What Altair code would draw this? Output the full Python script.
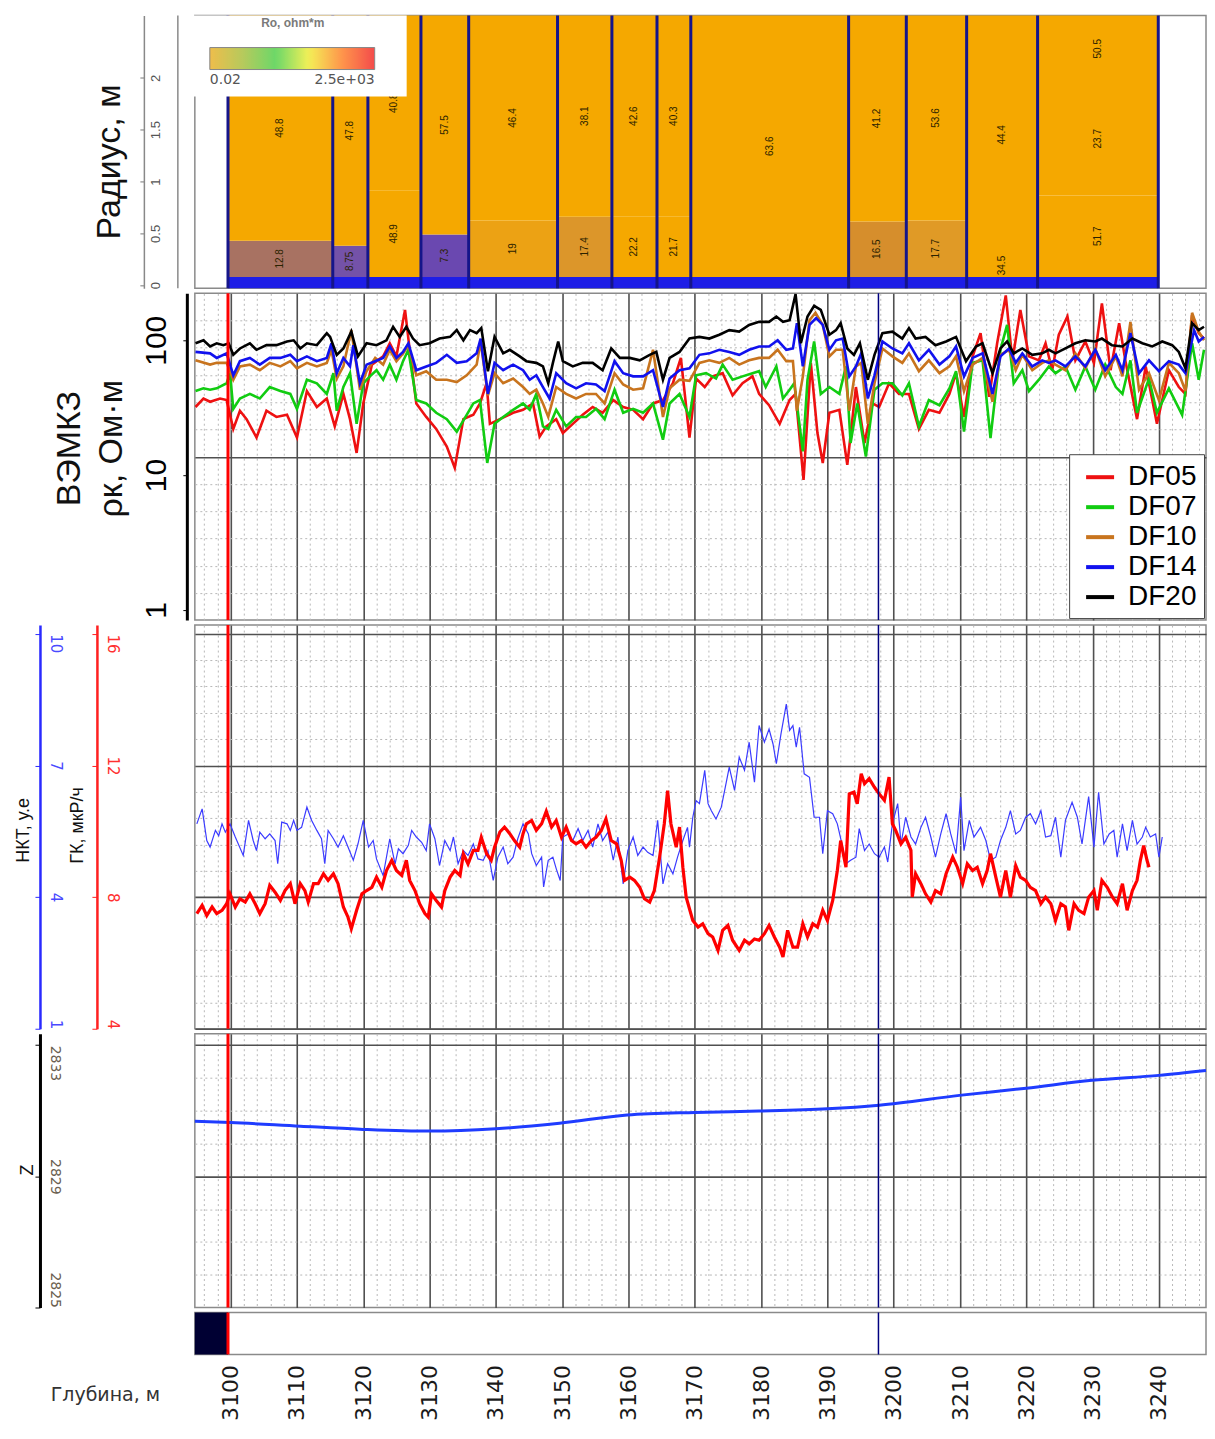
import math
import altair as alt
import pandas as pd

# ---------------- data ----------------
DEPTH_RANGE = [3094.6, 3247.1]
RED_MARK = 3099.6
NAVY_MARK = 3197.7
DEPTH_TICKS = list(range(3100, 3241, 10))
GRID_STEPS = list(range(3096, 3247, 2))

# Panel 1: radial resistivity model (depth from, depth to, r from, r to, Ro)
BOUNDARIES = [3099.6, 3115.4, 3120.7, 3128.7, 3135.9, 3149.3, 3157.5, 3164.3,
              3169.4, 3193.2, 3201.9, 3211.0, 3221.7, 3239.9]
WELL_RADIUS = 0.08
R_DOMAIN = [-0.03, 2.6]
ZONES = [
    (3099.6, 3115.4, 0.08, 0.43, 12.8), (3099.6, 3115.4, 0.43, 2.6, 48.8),
    (3115.4, 3120.7, 0.08, 0.38, 8.75), (3115.4, 3120.7, 0.38, 2.6, 47.8),
    (3120.7, 3128.7, 0.08, 0.91, 48.9), (3120.7, 3128.7, 0.91, 2.6, 40.8),
    (3128.7, 3135.9, 0.08, 0.49, 7.3), (3128.7, 3135.9, 0.49, 2.6, 57.5),
    (3135.9, 3149.3, 0.08, 0.625, 19), (3135.9, 3149.3, 0.625, 2.6, 46.4),
    (3149.3, 3157.5, 0.08, 0.66, 17.4), (3149.3, 3157.5, 0.66, 2.6, 38.1),
    (3157.5, 3164.3, 0.08, 0.66, 22.2), (3157.5, 3164.3, 0.66, 2.6, 42.6),
    (3164.3, 3169.4, 0.08, 0.66, 21.7), (3164.3, 3169.4, 0.66, 2.6, 40.3),
    (3169.4, 3193.2, 0.08, 2.6, 63.6),
    (3193.2, 3201.9, 0.08, 0.615, 16.5), (3193.2, 3201.9, 0.615, 2.6, 41.2),
    (3201.9, 3211.0, 0.08, 0.625, 17.7), (3201.9, 3211.0, 0.625, 2.6, 53.6),
    (3211.0, 3221.7, 0.08, 0.30, 34.5), (3211.0, 3221.7, 0.30, 2.6, 44.4),
    (3221.7, 3239.9, 0.08, 0.865, 51.7), (3221.7, 3239.9, 0.865, 1.96, 23.7),
    (3221.7, 3239.9, 1.96, 2.6, 50.5),
]
RO_LEGEND = [0.02, 2500]

# Panel 2: VEMKZ apparent resistivity curves (depth, ohm*m)
DF05 = [(3094.7,32),(3095.9,37),(3096.9,35),(3098.4,37),(3099.4,36),(3100.4,22),(3101.4,30),(3102.4,26),(3103.9,19),(3105.4,30),(3106.9,27),(3108.5,28),(3110.0,19),(3111.5,42),(3113.0,32),(3114.5,37),(3115.7,23),(3117.0,40),(3118.0,26),(3119.0,14.6),(3120.0,34),(3121.3,66),(3123.0,76),(3124.0,95),(3125.0,76),(3126.3,168),(3127.0,85),(3128.0,34),(3129.5,27),(3131.0,22),(3132.6,16.3),(3133.8,11.3),(3135.1,26),(3136.6,28),(3137.6,34),(3138.6,48),(3139.1,24),(3140.6,26),(3142.6,29),(3144.1,30.5),(3145.6,34),(3146.6,19.3),(3147.6,23),(3149.1,26),(3150.1,20.5),(3151.6,24),(3153.1,28),(3154.6,32),(3156.1,29),(3157.7,36),(3159.2,32),(3160.7,30.5),(3162.2,26),(3163.7,34),(3165.2,36),(3166.7,48),(3167.9,74),(3169.2,19),(3170.2,52),(3171.5,45),(3172.7,54),(3174.2,57),(3175.7,39),(3177.2,48),(3178.7,54),(3179.7,40),(3181.2,33),(3182.8,24),(3184.3,36),(3185.2,40),(3186.4,9.2),(3187.5,68),(3188.5,20.5),(3189.3,12.3),(3190.3,29),(3191.8,30.5),(3193.0,11.9),(3194.3,45),(3195.6,17.3),(3196.8,34),(3197.8,32),(3199.3,48),(3200.8,40),(3202.3,40),(3203.8,22),(3205.3,30.5),(3206.9,29),(3208.4,40),(3209.4,57),(3210.6,27),(3211.9,76),(3213.1,113),(3214.4,38),(3215.6,95),(3216.9,215),(3217.9,71),(3219.1,168),(3220.4,76),(3221.9,71),(3222.9,95),(3223.9,60),(3224.9,110),(3226.2,150),(3227.4,71),(3228.9,98),(3230.2,68),(3231.4,188),(3232.7,60),(3234.0,134),(3235.0,68),(3236.7,26),(3238.0,64),(3239.7,24),(3241.5,60),(3243.0,45),(3244.0,40),(3245.0,154),(3246.0,113),(3246.8,103)]
DF07 = [(3094.7,42),(3095.9,44),(3096.9,43),(3097.9,44),(3099.4,48),(3099.9,57),(3100.4,31),(3101.4,37),(3102.9,40),(3104.4,37),(3105.9,45),(3107.5,42),(3109.0,40),(3110.0,31),(3111.5,51),(3113.0,48),(3114.5,40),(3115.5,57),(3116.0,30),(3117.0,45),(3118.0,57),(3119.0,24),(3120.0,48),(3121.0,54),(3122.0,60),(3123.0,51),(3124.0,66),(3125.0,51),(3126.0,70),(3126.8,85),(3128.0,36),(3129.5,34),(3131.0,29),(3132.6,26),(3134.1,21),(3135.6,28),(3136.6,34),(3137.6,36),(3138.7,12.3),(3139.8,24),(3141.1,27),(3142.6,30.5),(3144.1,34),(3145.1,30.5),(3146.1,40),(3147.1,23),(3147.9,22),(3149.1,30.5),(3150.6,23),(3152.1,27),(3153.6,27),(3155.1,31),(3156.4,26),(3157.9,43),(3159.2,29),(3160.7,31),(3162.2,29),(3163.7,34),(3165.2,18.3),(3166.2,34),(3167.7,40),(3169.2,27),(3170.2,55),(3171.7,57),(3173.2,52),(3174.2,66),(3175.7,51),(3177.2,54),(3178.7,57),(3179.7,59),(3180.7,45),(3182.3,64),(3183.3,37),(3184.3,43),(3185.0,48),(3186.3,15),(3187.0,51),(3188.0,98),(3189.0,40),(3190.3,45),(3191.8,40),(3192.8,64),(3193.5,17.3),(3194.5,34),(3195.8,13.7),(3197.1,43),(3198.3,48),(3199.8,48),(3201.3,39),(3202.3,48),(3203.8,23),(3205.3,36),(3206.9,33),(3208.4,44),(3209.4,59),(3210.6,21),(3211.9,68),(3213.4,71),(3214.6,18.8),(3216.1,85),(3217.1,130),(3218.1,48),(3219.4,60),(3220.4,42),(3221.9,51),(3223.4,64),(3224.4,57),(3225.9,64),(3227.4,43),(3228.9,64),(3230.4,43),(3231.9,66),(3233.5,45),(3234.5,40),(3235.7,71),(3236.7,29),(3238.5,52),(3239.7,29),(3241.5,44),(3243.5,28),(3245.0,95),(3246.0,51),(3246.8,85)]
DF10 = [(3094.7,71),(3096.9,66),(3097.9,68),(3099.4,68),(3100.4,51),(3101.4,64),(3102.9,66),(3104.4,60),(3105.9,68),(3107.5,64),(3109.0,70),(3110.0,62),(3111.5,68),(3113.0,64),(3114.5,68),(3115.2,85),(3116.0,52),(3117.0,64),(3118.2,119),(3119.5,43),(3120.5,59),(3121.8,74),(3123.0,66),(3124.0,85),(3125.0,70),(3126.0,80),(3126.8,92),(3128.0,55),(3129.5,59),(3131.0,51),(3132.6,51),(3134.1,49),(3135.6,55),(3137.1,66),(3137.7,98),(3138.8,39),(3139.8,57),(3141.1,48),(3142.6,52),(3144.1,45),(3145.1,40),(3146.1,43),(3147.1,34),(3147.9,27),(3149.1,45),(3150.6,40),(3152.1,37),(3153.6,40),(3155.1,40),(3156.4,34),(3157.9,57),(3159.2,47),(3160.7,43),(3162.2,44),(3163.7,85),(3165.2,27),(3166.2,44),(3167.7,51),(3169.2,50),(3170.7,68),(3172.2,71),(3173.7,68),(3175.2,74),(3176.7,66),(3178.2,71),(3179.7,74),(3181.2,74),(3182.5,85),(3183.8,70),(3184.8,70),(3185.4,30),(3186.3,54),(3187.3,141),(3188.2,160),(3189.3,130),(3190.3,76),(3191.3,85),(3192.3,85),(3193.3,30),(3194.3,64),(3195.1,68),(3196.1,24),(3197.1,48),(3198.3,87),(3199.8,76),(3201.3,68),(3202.3,80),(3203.8,59),(3205.3,71),(3206.9,57),(3208.4,64),(3209.4,76),(3210.6,42),(3211.9,66),(3213.4,74),(3214.9,35),(3216.1,78),(3217.4,85),(3218.4,60),(3219.4,78),(3220.9,60),(3222.4,68),(3223.4,71),(3224.4,66),(3225.9,60),(3227.4,80),(3228.9,62),(3230.4,87),(3231.9,54),(3233.5,76),(3234.5,54),(3235.7,137),(3237.0,43),(3238.5,57),(3240.0,36),(3241.5,68),(3243.0,57),(3244.0,42),(3245.0,160),(3246.0,116),(3246.8,100)]
DF14 = [(3094.7,82),(3096.9,80),(3097.9,74),(3099.4,80),(3100.4,55),(3101.4,70),(3102.9,74),(3104.4,66),(3105.9,74),(3107.5,74),(3109.0,78),(3110.0,70),(3111.5,76),(3113.0,70),(3114.5,74),(3115.2,95),(3116.0,57),(3117.0,74),(3118.0,64),(3118.5,92),(3119.5,48),(3120.5,66),(3121.8,70),(3123.0,74),(3124.0,90),(3125.0,74),(3126.0,82),(3126.8,95),(3128.0,60),(3129.5,64),(3131.0,68),(3132.6,78),(3134.1,68),(3135.6,70),(3137.1,80),(3137.7,103),(3138.8,40),(3139.8,68),(3141.1,60),(3142.6,66),(3144.1,60),(3145.1,51),(3146.1,55),(3147.1,45),(3148.1,37),(3149.1,57),(3150.6,48),(3152.1,44),(3153.6,48),(3155.1,47),(3156.4,42),(3157.9,70),(3159.2,57),(3160.7,54),(3162.2,54),(3163.7,60),(3165.2,32),(3166.2,52),(3167.7,60),(3169.2,62),(3170.7,78),(3172.2,80),(3173.7,85),(3175.2,82),(3176.7,78),(3178.2,85),(3179.7,90),(3181.2,90),(3182.5,100),(3183.8,85),(3184.8,87),(3185.4,134),(3186.3,64),(3187.3,130),(3188.3,146),(3189.3,130),(3190.3,85),(3191.3,100),(3192.3,103),(3193.3,54),(3194.3,64),(3195.1,80),(3196.1,37),(3197.1,55),(3198.3,98),(3199.8,87),(3201.3,80),(3202.3,95),(3203.8,71),(3205.3,85),(3206.9,66),(3208.4,76),(3209.4,90),(3210.6,54),(3211.9,74),(3213.4,80),(3214.9,40),(3216.1,76),(3217.4,87),(3218.4,68),(3219.4,80),(3220.9,64),(3222.4,71),(3223.4,68),(3224.4,71),(3225.9,64),(3227.4,76),(3228.9,64),(3230.4,85),(3231.9,60),(3233.5,78),(3234.5,60),(3235.7,113),(3237.0,57),(3238.5,71),(3240.0,59),(3241.5,70),(3243.0,66),(3244.0,57),(3245.3,119),(3246.0,98),(3246.8,106)]
DF20 = [(3094.7,95),(3095.9,100),(3096.9,90),(3097.9,95),(3098.9,92),(3099.7,95),(3100.4,78),(3101.4,87),(3102.9,95),(3103.9,85),(3105.4,92),(3106.9,92),(3108.5,98),(3109.5,100),(3110.5,87),(3111.5,95),(3113.0,92),(3114.5,113),(3115.0,106),(3116.0,78),(3117.0,87),(3118.2,116),(3119.2,76),(3120.5,95),(3122.0,92),(3123.5,100),(3124.5,126),(3125.5,106),(3126.5,126),(3127.5,103),(3128.5,92),(3130.0,95),(3131.5,103),(3133.1,106),(3134.1,119),(3135.1,100),(3136.1,119),(3137.1,113),(3137.8,123),(3138.8,59),(3139.8,106),(3141.1,80),(3142.1,85),(3143.6,76),(3144.6,70),(3146.1,68),(3147.1,64),(3147.9,48),(3148.6,68),(3149.4,98),(3150.1,70),(3151.6,64),(3153.1,68),(3154.6,68),(3156.1,60),(3157.4,87),(3158.7,74),(3160.2,74),(3161.7,71),(3163.2,78),(3164.2,82),(3165.2,51),(3166.2,74),(3167.7,82),(3169.2,103),(3170.7,106),(3172.2,103),(3173.7,110),(3175.2,119),(3176.7,116),(3178.2,130),(3179.7,137),(3181.2,137),(3182.3,150),(3183.3,137),(3184.3,141),(3185.2,220),(3186.0,95),(3187.0,150),(3188.0,180),(3189.0,168),(3190.3,110),(3191.3,119),(3192.0,134),(3193.0,87),(3194.0,78),(3194.9,95),(3196.1,51),(3197.1,78),(3198.3,113),(3199.8,116),(3201.3,103),(3202.3,123),(3203.3,103),(3204.8,106),(3206.3,92),(3207.9,98),(3209.4,106),(3210.9,70),(3212.4,90),(3213.4,95),(3214.9,57),(3216.1,87),(3217.1,98),(3218.1,80),(3219.4,87),(3220.9,78),(3222.4,80),(3223.4,85),(3224.4,80),(3225.9,87),(3227.4,95),(3228.9,100),(3230.4,98),(3231.4,103),(3232.9,92),(3234.5,90),(3236.0,103),(3237.5,95),(3239.0,90),(3240.5,98),(3242.0,92),(3243.0,82),(3244.0,62),(3245.0,134),(3246.0,119),(3246.8,126)]
CURVES = ["DF05", "DF07", "DF10", "DF14", "DF20"]

# Panel 3: neutron (NKT, c.u.) and gamma (GK, uR/h)
NKT = [(3094.9,5.67),(3095.7,6.01),(3096.4,5.29),(3096.9,5.14),(3097.7,5.52),(3098.2,5.40),(3098.7,5.67),(3099.2,5.48),(3099.9,5.67),(3100.7,5.37),(3101.9,4.95),(3102.7,5.75),(3103.4,5.29),(3103.9,5.06),(3104.4,5.48),(3105.2,5.33),(3105.9,5.44),(3106.7,5.29),(3107.1,4.76),(3107.7,5.71),(3108.5,5.67),(3109.0,5.52),(3109.5,5.75),(3110.0,5.52),(3110.7,5.59),(3111.5,6.05),(3112.2,5.75),(3113.0,5.52),(3113.7,5.33),(3114.2,4.76),(3114.7,5.52),(3115.5,5.33),(3116.2,5.14),(3117.0,5.40),(3117.7,5.14),(3118.5,4.84),(3119.2,5.21),(3120.0,5.75),(3120.8,5.14),(3121.5,5.29),(3122.0,4.87),(3123.0,4.49),(3124.0,5.33),(3124.8,4.76),(3125.3,5.10),(3126.0,4.99),(3126.8,5.18),(3127.3,5.52),(3128.0,5.37),(3128.8,5.25),(3129.5,5.06),(3130.0,5.67),(3130.8,5.33),(3131.5,4.72),(3132.3,5.29),(3133.1,5.06),(3133.6,5.37),(3134.3,4.76),(3135.1,5.06),(3135.8,4.95),(3136.6,5.21),(3137.3,4.87),(3138.1,4.84),(3138.8,5.06),(3139.6,4.38),(3140.3,4.91),(3141.1,5.14),(3141.8,4.76),(3142.6,4.91),(3143.3,5.33),(3144.1,5.67),(3144.9,5.44),(3145.4,4.99),(3146.1,4.72),(3146.9,4.91),(3147.2,4.23),(3147.9,4.84),(3148.6,4.91),(3149.1,4.65),(3149.7,4.38),(3150.1,5.37),(3150.9,5.44),(3151.6,5.29),(3152.4,5.56),(3153.1,5.29),(3153.9,5.52),(3154.6,5.14),(3155.4,5.67),(3156.1,5.29),(3156.9,5.48),(3157.7,4.84),(3158.4,5.37),(3159.2,4.30),(3159.9,5.06),(3160.7,5.37),(3161.4,4.95),(3162.2,5.14),(3162.9,5.02),(3163.7,4.95),(3164.4,5.75),(3165.2,4.30),(3165.9,4.76),(3166.7,4.53),(3167.4,4.91),(3168.2,5.29),(3168.9,5.59),(3169.2,5.14),(3169.7,5.82),(3170.2,6.20),(3170.7,6.13),(3171.5,6.89),(3172.0,6.13),(3172.5,5.97),(3173.2,5.78),(3174.0,6.05),(3174.7,6.58),(3175.2,6.96),(3176.0,6.43),(3176.7,7.19),(3177.5,6.89),(3178.2,7.53),(3179.0,6.62),(3179.7,7.91),(3180.5,7.53),(3181.2,7.83),(3181.8,7.49),(3182.3,7.04),(3183.0,7.72),(3183.8,8.40),(3184.3,7.80),(3184.8,7.91),(3185.3,7.42),(3185.8,7.87),(3186.5,6.81),(3187.3,6.73),(3188.0,5.82),(3188.8,5.82),(3189.3,4.99),(3190.0,5.97),(3190.8,5.90),(3191.5,5.67),(3192.3,5.14),(3192.8,4.76),(3193.5,4.84),(3194.3,4.91),(3194.8,5.56),(3195.6,5.06),(3196.3,5.21),(3197.1,4.99),(3197.8,4.91),(3198.6,5.14),(3199.1,4.80),(3199.8,5.67),(3200.6,6.13),(3201.1,5.21),(3201.8,5.82),(3202.6,5.37),(3203.3,5.21),(3204.1,5.59),(3204.8,5.82),(3205.6,5.37),(3206.3,4.91),(3207.1,5.44),(3207.9,5.90),(3208.6,5.44),(3209.4,4.99),(3210.1,6.28),(3210.6,5.06),(3211.4,5.75),(3212.1,5.37),(3213.1,5.59),(3213.9,5.29),(3214.6,4.84),(3215.4,4.91),(3216.1,5.29),(3216.9,5.59),(3217.6,5.97),(3218.4,5.44),(3219.1,5.52),(3219.9,5.82),(3220.6,5.90),(3221.4,5.67),(3222.2,5.97),(3222.9,5.37),(3223.7,5.40),(3224.4,5.82),(3225.2,4.91),(3225.9,5.75),(3226.9,6.16),(3227.7,5.82),(3228.4,5.21),(3229.4,6.29),(3230.2,5.14),(3230.9,6.39),(3231.7,5.21),(3232.5,5.44),(3233.2,5.52),(3233.7,4.91),(3234.5,5.67),(3235.2,5.06),(3236.0,5.75),(3236.7,5.21),(3237.5,5.37),(3238.0,5.59),(3238.7,5.37),(3239.5,5.44),(3240.0,4.91),(3240.5,5.37)]
GK = [(3094.9,7.50),(3095.7,7.75),(3096.4,7.44),(3097.2,7.70),(3097.9,7.50),(3098.7,7.60),(3099.4,7.80),(3099.9,8.10),(3100.7,7.70),(3101.4,7.95),(3102.2,7.85),(3102.9,8.10),(3103.7,7.80),(3104.4,7.50),(3105.2,7.80),(3105.9,8.36),(3106.7,8.15),(3107.5,7.90),(3108.2,8.20),(3109.0,8.41),(3109.7,7.80),(3110.5,8.41),(3111.2,8.20),(3111.7,7.85),(3112.5,8.41),(3113.2,8.41),(3114.0,8.71),(3114.7,8.51),(3115.5,8.71),(3116.2,8.41),(3117.0,7.70),(3117.7,7.39),(3118.2,7.04),(3119.0,7.60),(3119.8,8.10),(3120.5,8.20),(3121.3,8.30),(3122.0,8.61),(3122.8,8.30),(3123.5,8.81),(3124.3,9.12),(3125.0,8.81),(3125.8,8.66),(3126.5,9.12),(3127.0,8.51),(3127.8,8.20),(3128.5,7.80),(3129.3,7.50),(3129.8,7.39),(3130.3,8.10),(3131.0,7.90),(3131.8,7.70),(3132.3,8.20),(3133.1,8.61),(3133.8,8.81),(3134.6,8.66),(3135.1,9.32),(3135.8,9.01),(3136.6,9.42),(3137.3,9.42),(3137.8,9.82),(3138.6,9.32),(3139.3,9.12),(3139.8,9.52),(3140.6,9.98),(3141.3,10.13),(3142.1,9.93),(3142.8,9.72),(3143.6,9.52),(3144.1,9.93),(3144.6,10.23),(3145.4,10.33),(3146.1,10.03),(3146.9,10.23),(3147.6,10.61),(3148.4,10.13),(3149.1,10.33),(3149.9,9.82),(3150.6,10.13),(3151.4,9.72),(3152.1,9.62),(3152.9,9.72),(3153.6,9.52),(3154.4,9.72),(3155.1,9.82),(3155.9,10.03),(3156.6,10.38),(3157.4,9.72),(3158.2,9.62),(3158.9,9.12),(3159.4,8.51),(3160.2,8.61),(3160.9,8.51),(3161.7,8.30),(3162.4,7.95),(3163.2,7.85),(3163.9,8.20),(3164.7,9.22),(3165.4,10.23),(3165.9,11.24),(3166.4,10.23),(3167.2,9.52),(3167.7,10.13),(3168.2,8.91),(3168.7,8.00),(3169.7,7.29),(3170.5,7.09),(3171.2,7.19),(3172.0,6.89),(3172.7,6.79),(3173.5,6.38),(3174.2,6.99),(3175.0,7.14),(3175.7,6.69),(3176.7,6.38),(3177.5,6.69),(3178.2,6.58),(3179.0,6.73),(3179.7,6.69),(3180.5,6.89),(3181.2,7.14),(3182.0,6.79),(3182.8,6.48),(3183.3,6.18),(3184.0,6.99),(3184.8,6.48),(3185.5,6.48),(3186.3,7.19),(3187.0,6.79),(3187.8,7.19),(3188.5,7.09),(3189.3,7.60),(3190.0,7.29),(3190.8,7.90),(3191.5,8.81),(3192.0,9.72),(3192.8,8.91),(3193.3,11.14),(3194.0,11.19),(3194.5,10.84),(3195.1,11.75),(3195.6,11.45),(3196.3,11.60),(3197.1,11.34),(3197.8,11.14),(3198.6,10.94),(3199.3,11.65),(3199.8,10.23),(3200.3,10.03),(3201.1,9.62),(3201.8,9.82),(3202.6,9.42),(3202.8,8.00),(3203.3,8.71),(3204.1,8.41),(3204.8,8.10),(3205.6,7.85),(3206.3,8.20),(3207.1,8.10),(3207.9,8.71),(3208.9,9.22),(3209.6,8.91),(3210.4,8.41),(3211.1,9.01),(3211.9,8.81),(3212.6,8.91),(3213.4,8.41),(3214.1,8.81),(3214.6,9.32),(3215.4,8.61),(3216.1,8.00),(3216.9,8.81),(3217.6,8.00),(3218.4,8.96),(3219.1,8.61),(3219.9,8.51),(3220.6,8.30),(3221.4,8.20),(3222.2,7.80),(3222.9,8.00),(3223.7,7.80),(3224.4,7.29),(3225.2,7.80),(3225.9,7.70),(3226.4,6.99),(3227.2,7.80),(3227.9,7.60),(3228.7,7.50),(3229.4,8.00),(3230.2,8.20),(3230.7,7.60),(3231.4,8.51),(3232.2,8.30),(3233.0,8.00),(3233.7,7.80),(3234.5,8.41),(3235.2,7.60),(3236.0,8.20),(3236.7,8.51),(3237.2,9.12),(3237.7,9.57),(3238.2,9.12),(3238.5,8.91)]

# Panel 4: true vertical depth Z
Z_CURVE = [(3094.6,2830.68),(3100.0,2830.64),(3110.5,2830.53),(3119.5,2830.44),(3130.0,2830.38),(3140.0,2830.45),(3149.6,2830.62),(3159.8,2830.87),(3170.0,2830.95),(3179.7,2830.99),(3190.0,2831.06),(3197.8,2831.17),(3209.9,2831.47),(3220.0,2831.69),(3229.9,2831.93),(3240.0,2832.08),(3247.1,2832.23)]

# ---------------- styling ----------------
W = 1012
H1, H2, H3, H4, H5 = 273, 327, 404, 274, 42
FONT = "Liberation Sans"
FONT2 = "DejaVu Sans"
CURVE_COLORS = ["#ee1111", "#11cc11", "#c8741e", "#1111ee", "#000000"]
RO_STOPS = [0.02, 0.21, 2.2, 23, 240, 2500]
RO_COLORS = ["#e8a200", "#98b418", "#2ec82a", "#f0ea10", "#ff6a00", "#f00000"]
FILL_STOPS = [7.3, 8.75, 12.8, 16.5, 17.4, 17.7, 19, 21]
FILL_COLORS = ["#6a48b0", "#7452a8", "#a87262", "#d68e2c", "#dc962a", "#e09a26", "#eca214", "#f5a800"]

xs = alt.Scale(domain=DEPTH_RANGE, nice=False, zero=False)

MAJ_X = "datum.value % 10 === 0"


def cond(test, a, b):
    return {"condition": {"test": test, "value": a}, "value": b}


def end_align(lo, hi):
    # first/last label kept inside the track (labels read top-to-bottom)
    return {"condition": [{"test": f"datum.value >= {hi}", "value": "left"},
                          {"test": f"datum.value <= {lo}", "value": "right"}],
            "value": "center"}


x_grid = alt.Axis(grid=True, labels=False, ticks=False, domain=False, title=None,
                  values=GRID_STEPS,
                  gridColor=cond(MAJ_X, "#505050", "#b8b8b8"),
                  gridDash=cond(MAJ_X, [], [2, 3]),
                  gridWidth=cond(MAJ_X, 1.6, 1))


def hgrid_axis(values, test):
    return alt.Axis(orient="right", grid=True, labels=False, ticks=False, domain=False,
                    title=None, values=values,
                    gridColor=cond(test, "#505050", "#b8b8b8"),
                    gridDash=cond(test, [], [2, 3]),
                    gridWidth=cond(test, 1.6, 1))


def marker_rules(axis):
    red = alt.Chart(pd.DataFrame({"d": [RED_MARK]})).mark_rule(
        color="#ff0000", strokeWidth=3).encode(x=alt.X("d:Q", scale=xs, axis=axis))
    navy = alt.Chart(pd.DataFrame({"d": [NAVY_MARK]})).mark_rule(
        color="#000080", strokeWidth=1.5).encode(x=alt.X("d:Q", scale=xs, axis=axis))
    return [red, navy]


# ---------------- Panel 1 ----------------
zones = pd.DataFrame(ZONES, columns=["d0", "d1", "r0", "r1", "ro"])
zones["label"] = [f"{v:g}" for v in zones["ro"]]
ys1 = alt.Scale(domain=R_DOMAIN, nice=False, zero=False)

ax_r = alt.Axis(orient="left", offset=51, values=[0, 0.5, 1, 1.5, 2], format="~g",
                grid=False,
                labelAngle=270, labelAlign="center", labelBaseline="bottom",
                labelFontSize=13, labelColor="#555555", labelFont=FONT,
                labelPadding=-23, tickSize=4, tickColor="#777777",
                domainColor="#888888", domainWidth=1.5,
                title="Радиус, м", titleFontSize=34, titleFontWeight="normal",
                titleColor="#111111", titleFont=FONT, titleAngle=270,
                titleAlign="center", titleBaseline="middle", titleX=-34, titleY=146)

p1_rect = alt.Chart(zones).mark_rect().encode(
    x=alt.X("d0:Q", scale=xs, axis=None), x2="d1:Q",
    y=alt.Y("r0:Q", scale=ys1, axis=ax_r), y2="r1:Q",
    fill=alt.Fill("ro:Q", scale=alt.Scale(domain=FILL_STOPS, range=FILL_COLORS,
                                          clamp=True, interpolate="rgb"), legend=None))

well = pd.DataFrame({"d0": [BOUNDARIES[0]], "d1": [BOUNDARIES[-1]],
                     "r0": [R_DOMAIN[0]], "r1": [WELL_RADIUS]})
p1_well = alt.Chart(well).mark_rect(color="#1e1ee6").encode(
    x=alt.X("d0:Q", scale=xs, axis=None), x2="d1:Q",
    y=alt.Y("r0:Q", scale=ys1, axis=ax_r), y2="r1:Q")

p1_bounds = alt.Chart(pd.DataFrame({"d": BOUNDARIES})).mark_rule(
    color="#15158a", strokeWidth=3).encode(x=alt.X("d:Q", scale=xs, axis=None))

p1_text = alt.Chart(zones).transform_calculate(
    dm="(datum.d0 + datum.d1) / 2", rm="(datum.r0 + datum.r1) / 2"
).mark_text(angle=270, fontSize=10, color="#2b2200", font=FONT).encode(
    x=alt.X("dm:Q", scale=xs, axis=None),
    y=alt.Y("rm:Q", scale=ys1, axis=ax_r),
    text="label:N")

p1_leg = alt.Chart(pd.DataFrame({"Ro": RO_LEGEND, "d": [3096.0, 3096.0], "r": [2.4, 2.4]})
                   ).mark_point(size=0).encode(
    x=alt.X("d:Q", scale=xs, axis=None),
    y=alt.Y("r:Q", scale=ys1, axis=ax_r),
    color=alt.Color("Ro:Q", scale=alt.Scale(type="log", domain=RO_STOPS, range=RO_COLORS,
                                            interpolate="rgb"),
                    legend=alt.Legend(orient="none", legendX=15, legendY=2,
                                      direction="horizontal", gradientLength=165,
                                      gradientThickness=22, title="Ro, ohm*m",
                                      titleFontSize=12, titleFontWeight="bold",
                                      titleColor="#7a7a7a", titleFont=FONT,
                                      titleAnchor="middle", titlePadding=18,
                                      labelFontSize=14, labelColor="#555555",
                                      labelFont=FONT2, labelAlign="center",
                                      labelOffset=3, values=RO_LEGEND,
                                      labelExpr="datum.value < 1 ? '0.02' : '2.5e+03'",
                                      gradientStrokeColor="#555555",
                                      gradientStrokeWidth=1, padding=0)))

p1_box = alt.Chart(pd.DataFrame({"a": [0]})).mark_rect(fill="white").encode(
    x=alt.value(-17), x2=alt.value(212), y=alt.value(0), y2=alt.value(81))
p1_frame = alt.Chart(pd.DataFrame({"a": [0]})).mark_rule(
    color="#8a8a8a", strokeWidth=1.5).encode(
    x=alt.value(-17), y=alt.value(0), y2=alt.value(H1))

p1 = alt.layer(p1_rect, p1_well, p1_bounds, p1_text, p1_leg, p1_box, p1_frame
               ).properties(width=W, height=H1)

# ---------------- Panel 2 ----------------
rows = []
for name, series in zip(CURVES, [DF05, DF07, DF10, DF14, DF20]):
    for d, v in series:
        rows.append({"depth": d, "value": v, "curve": name})
df2 = pd.DataFrame(rows)

LO2, HI2 = 0.84, 223
ys2 = alt.Scale(type="log", domain=[LO2, HI2], nice=False)
P2_GRID = [10 ** (math.log10(LO2) + k / 12 * (math.log10(HI2) - math.log10(LO2)))
           for k in range(1, 12)]
test2 = f"abs(datum.value - {P2_GRID[5]:.6f}) < 0.001"

ax_rho = alt.Axis(orient="left", offset=8, values=[1, 10, 100], format="d", grid=False,
                  labelAngle=270, labelAlign="center", labelBaseline="bottom",
                  labelFontSize=30, labelColor="#000000", labelFont=FONT,
                  labelPadding=11, tickSize=4, tickColor="#000000",
                  domainColor="#000000", domainWidth=3,
                  title=["ВЭМКЗ", "ρк, Ом·м"], titleFontSize=34,
                  titleFontWeight="normal", titleColor="#111111", titleFont=FONT,
                  titleAngle=270, titleAlign="center", titleBaseline="middle",
                  titleLineHeight=42, titleX=-117, titleY=155)

g2 = alt.Chart(pd.DataFrame({"v": [10.0], "d": [3100.0]})).mark_point(size=0, opacity=0).encode(
    x=alt.X("d:Q", scale=xs, axis=x_grid),
    y=alt.Y("v:Q", scale=ys2, axis=hgrid_axis(P2_GRID, test2)))

lines2 = alt.Chart(df2).mark_line(strokeWidth=2.6, clip=True).encode(
    x=alt.X("depth:Q", scale=xs, axis=x_grid),
    y=alt.Y("value:Q", scale=ys2, axis=ax_rho),
    color=alt.Color("curve:N", scale=alt.Scale(domain=CURVES, range=CURVE_COLORS),
                    legend=alt.Legend(orient="bottom-right", offset=2, title=None,
                                      fillColor="white", strokeColor="#444444",
                                      padding=7, symbolType="stroke",
                                      symbolStrokeWidth=4, symbolSize=784,
                                      symbolOffset=8,
                                      labelFontSize=28, labelFont=FONT,
                                      labelColor="#000000", rowPadding=0,
                                      labelOffset=12)))

p2 = alt.layer(g2, lines2, *marker_rules(x_grid)).resolve_axis(y="independent"
                                                                ).properties(width=W, height=H2)

# ---------------- Panel 3 ----------------
nkt_df = pd.DataFrame(NKT, columns=["depth", "nkt"])
gk_df = pd.DataFrame(GK, columns=["depth", "gk"])
NKT_DOMAIN = [1, 10.2]
GK_DOMAIN = [4, 16.27]
NKT_GRID = [round(1 + 0.6 * k, 1) for k in range(16)]
test3 = "abs((datum.value - 1) / 3 - round((datum.value - 1) / 3)) < 0.01"

g3 = alt.Chart(pd.DataFrame({"v": [5.0], "d": [3100.0]})).mark_point(size=0, opacity=0).encode(
    x=alt.X("d:Q", scale=xs, axis=x_grid),
    y=alt.Y("v:Q", scale=alt.Scale(domain=NKT_DOMAIN, nice=False, zero=False),
            axis=hgrid_axis(NKT_GRID, test3)))

ax_nkt = alt.Axis(orient="left", offset=155, values=[1, 4, 7, 10], grid=False,
                  labelAngle=90, labelAlign=end_align(1, 10), labelBaseline="bottom",
                  labelFontSize=15, labelColor="#4a4aff", labelFont=FONT2,
                  labelPadding=-13, tickSize=5, tickColor="#2a2aff",
                  domainColor="#2a2aff", domainWidth=2.5,
                  title="НКТ, у.е", titleFontSize=18, titleFontWeight="normal",
                  titleColor="#111111", titleFont=FONT, titleAngle=270,
                  titleAlign="center", titleBaseline="middle", titleX=-16, titleY=205)
ax_gk = alt.Axis(orient="left", offset=98, values=[4, 8, 12, 16], grid=False,
                 labelAngle=90, labelAlign=end_align(4, 16), labelBaseline="bottom",
                 labelFontSize=15, labelColor="#ff3030", labelFont=FONT2,
                 labelPadding=-13, tickSize=5, tickColor="#ff2020",
                 domainColor="#ff2020", domainWidth=2.5,
                 title="ГК, мкР/ч", titleFontSize=18, titleFontWeight="normal",
                 titleColor="#111111", titleFont=FONT, titleAngle=270,
                 titleAlign="center", titleBaseline="middle", titleX=-19, titleY=200)

nkt_line = alt.Chart(nkt_df).mark_line(color="#3b3bff", strokeWidth=1.2).encode(
    x=alt.X("depth:Q", scale=xs, axis=x_grid),
    y=alt.Y("nkt:Q", scale=alt.Scale(domain=NKT_DOMAIN, nice=False, zero=False), axis=ax_nkt))
gk_line = alt.Chart(gk_df).mark_line(color="#ff0000", strokeWidth=3.2).encode(
    x=alt.X("depth:Q", scale=xs, axis=x_grid),
    y=alt.Y("gk:Q", scale=alt.Scale(domain=GK_DOMAIN, nice=False, zero=False), axis=ax_gk))

p3 = alt.layer(g3, nkt_line, gk_line, *marker_rules(x_grid)).resolve_scale(
    y="independent").resolve_axis(y="independent").properties(width=W, height=H3)

# ---------------- Panel 4 ----------------
z_df = pd.DataFrame(Z_CURVE, columns=["depth", "z"])
Z_DOMAIN = [2825, 2833.35]
zs = alt.Scale(domain=Z_DOMAIN, nice=False, zero=False)
Z_GRID = list(range(2826, 2834))
test4 = "(datum.value - 2825) % 4 === 0"

g4 = alt.Chart(pd.DataFrame({"v": [2829.0], "d": [3100.0]})).mark_point(size=0, opacity=0).encode(
    x=alt.X("d:Q", scale=xs, axis=x_grid),
    y=alt.Y("v:Q", scale=zs, axis=hgrid_axis(Z_GRID, test4)))

ax_z = alt.Axis(orient="left", offset=155, values=[2825, 2829, 2833], format="d",
                grid=False, labelAngle=90, labelAlign=end_align(2825, 2833),
                labelBaseline="bottom",
                labelFontSize=14, labelColor="#6b6050", labelFont=FONT2,
                labelPadding=-13, tickSize=5, tickColor="#000000",
                domainColor="#000000", domainWidth=3,
                title="Z", titleFontSize=18, titleFontWeight="normal",
                titleColor="#111111", titleFont=FONT, titleAngle=270,
                titleAlign="center", titleBaseline="middle", titleX=-12, titleY=136)

z_line = alt.Chart(z_df).mark_line(color="#1f3cff", strokeWidth=3, interpolate="monotone").encode(
    x=alt.X("depth:Q", scale=xs, axis=x_grid),
    y=alt.Y("z:Q", scale=zs, axis=ax_z))

p4 = alt.layer(g4, z_line, *marker_rules(x_grid)).resolve_axis(y="independent"
                                                                ).properties(width=W, height=H4)

# ---------------- Panel 5 ----------------
x_lab = alt.Axis(orient="bottom", values=DEPTH_TICKS, format="d", grid=False, ticks=False,
                 domain=False, labelAngle=270, labelAlign="right", labelBaseline="middle",
                 labelFontSize=22, labelFont=FONT2, labelColor="#1a1a1a", labelPadding=10,
                 title="Глубина, м", titleFontSize=19, titleFontWeight="normal",
                 titleFont=FONT2, titleColor="#333333", titleAngle=0,
                 titleAlign="center", titleBaseline="middle", titleX=-90, titleY=40)

p5_box = alt.Chart(pd.DataFrame({"d0": [DEPTH_RANGE[0]], "d1": [RED_MARK]})).mark_rect(
    color="#000033").encode(
    x=alt.X("d0:Q", scale=xs, axis=x_lab), x2="d1:Q",
    y=alt.value(0), y2=alt.value(H5))

p5 = alt.layer(p5_box, *marker_rules(x_lab)).properties(width=W, height=H5)

chart = alt.vconcat(p1, p2, p3, p4, p5, spacing=5).properties(
    bounds="flush",
    padding={"left": 14, "top": 12, "right": 2, "bottom": 0},
    background="white",
).resolve_scale(color="independent", fill="independent"
).resolve_legend(color="independent"
).configure_view(stroke="#8a8a8a", strokeWidth=1.5)

chart.save("out.html", embed_options={"renderer": "svg", "actions": False})
